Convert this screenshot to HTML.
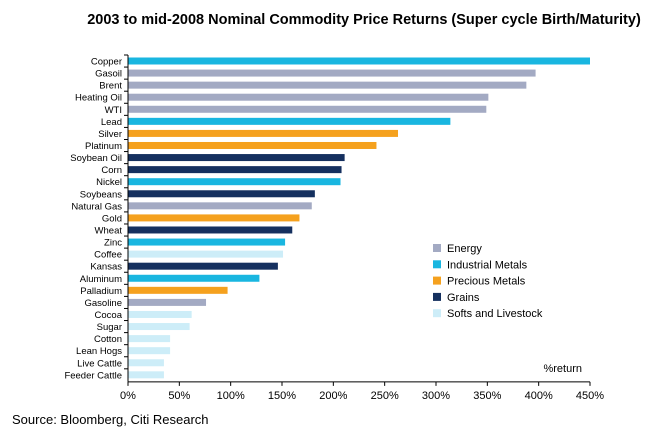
<!DOCTYPE html>
<html><head><meta charset="utf-8"><style>
body{margin:0;background:#fff;font-family:"Liberation Sans",Arial,sans-serif}
</style></head><body>
<svg id="c" width="648" height="431" xmlns="http://www.w3.org/2000/svg">
<text x="364" y="24" text-anchor="middle" font-size="14.5" font-weight="bold" fill="#000">2003 to mid-2008 Nominal Commodity Price Returns (Super cycle Birth/Maturity)</text>
<text x="12" y="424" font-size="13" fill="#000">Source: Bloomberg, Citi Research</text>
<text x="582" y="372" text-anchor="end" font-size="11" fill="#000">%return</text>
<g id="bars"></g><g id="axes"></g><g id="legend"></g>
</svg>
<script>
const categories=["Copper","Gasoil","Brent","Heating Oil","WTI","Lead","Silver","Platinum","Soybean Oil","Corn","Nickel","Soybeans","Natural Gas","Gold","Wheat","Zinc","Coffee","Kansas","Aluminum","Palladium","Gasoline","Cocoa","Sugar","Cotton","Lean Hogs","Live Cattle","Feeder Cattle"];
const values=[450,397,388,351,349,314,263,242,211,208,207,182,179,167,160,153,151,146,128,97,76,62,60,41,41,35,35];
const groups=[1,0,0,0,0,1,2,2,3,3,1,3,0,2,3,1,4,3,1,2,0,4,4,4,4,4,4];
const groupNames=["Energy","Industrial Metals","Precious Metals","Grains","Softs and Livestock"];
const ticks=[0,50,100,150,200,250,300,350,400,450];
const colors=["#a3aac3","#19b6e0","#f5a11e","#15305f","#cdedf8"];
const NS="http://www.w3.org/2000/svg";
const x0=128,x1=590,plotTop=55,rowH=12.07,xmax=450;
const xs=v=>x0+(v/xmax)*(x1-x0);
const ys=i=>plotTop+i*rowH;
function mk(t,a,p){const e=document.createElementNS(NS,t);for(const k in a)e.setAttribute(k,a[k]);p.appendChild(e);return e;}
const B=document.getElementById('bars'),A=document.getElementById('axes'),L=document.getElementById('legend');
categories.forEach((c,i)=>{
 const r=mk('rect',{x:xs(0),y:ys(i)+2.5,width:xs(values[i])-xs(0),height:7,fill:colors[groups[i]]},B);
 
 
 const t=mk('text',{x:122,y:ys(i)+9.5,'text-anchor':'end','font-size':9.5,fill:'#000'},A);t.textContent=c;
 
 
 mk('line',{x1:124,x2:128,y1:ys(i),y2:ys(i),stroke:'#000','stroke-width':1},A);
});
const axisY=ys(categories.length)+1;
mk('line',{x1:x0,x2:x0,y1:plotTop,y2:axisY,stroke:'#000','stroke-width':1},A);
mk('line',{x1:x0,x2:x1,y1:axisY,y2:axisY,stroke:'#000','stroke-width':1},A);
ticks.forEach(t=>{
 mk('line',{x1:xs(t),x2:xs(t),y1:axisY,y2:axisY+4,stroke:'#000'},A);
 const e=mk('text',{x:xs(t),y:axisY+17,'text-anchor':'middle','font-size':11,fill:'#000'},A);e.textContent=t+'%';
 
 
});
groupNames.forEach((g,i)=>{
 const y=248+i*16.3;
 mk('rect',{x:433,y:y-4,width:8,height:8,fill:colors[i]},L);
 const e=mk('text',{x:447,y:y+4,'font-size':11,fill:'#000'},L);e.textContent=g;
 
 
});
</script>
</body></html>
